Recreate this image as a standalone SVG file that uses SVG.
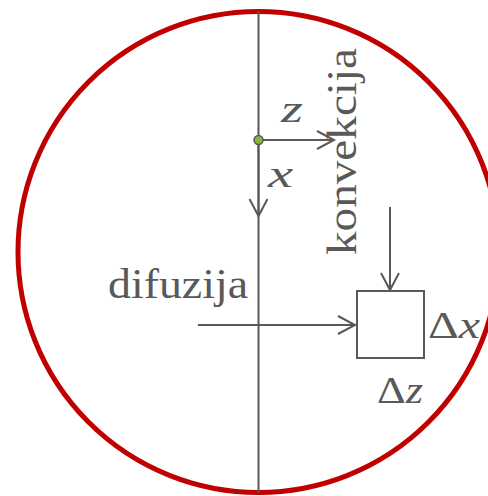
<svg xmlns="http://www.w3.org/2000/svg" width="488" height="496" viewBox="0 0 488 496">
<style>
.ln{stroke:#595959;stroke-width:2;fill:none}
.ar{marker-end:url(#open)}
.t{font-family:"Liberation Serif","Times New Roman",serif;fill:#595959}
.it{font-style:italic}
</style>
<defs>
<marker id="open" markerUnits="userSpaceOnUse" viewBox="-20 -12 24 24" markerWidth="24" markerHeight="24" refX="0" refY="0" orient="auto" overflow="visible">
<path d="M-17,-9 L0,0 L-17,9" fill="none" stroke="#595959" stroke-width="2"/>
</marker>
</defs>
<rect width="488" height="496" fill="#fff"/>
<g id="boundary">
<circle cx="258.5" cy="252" r="240.5" fill="none" stroke="#c00000" stroke-width="5"/>
</g>
<g id="connectors">
<line class="ln" x1="258.5" y1="11" x2="258.5" y2="493"/>
<line class="ln ar" x1="258.5" y1="140" x2="334" y2="140"/>
<line class="ln ar" x1="258.5" y1="140" x2="258.5" y2="216"/>
<line class="ln ar" x1="198" y1="325" x2="355" y2="325"/>
<line class="ln ar" x1="390" y1="207" x2="390" y2="290"/>
</g>
<g id="origin">
<circle cx="258.5" cy="140" r="4.5" fill="#8db33a" stroke="#595959" stroke-width="1.5"/>
</g>
<g id="label-z"><text class="t it" x="281" y="122" font-size="38" textLength="22" lengthAdjust="spacingAndGlyphs">z</text></g>
<g id="label-x"><text class="t it" x="268" y="187" font-size="38" textLength="25" lengthAdjust="spacingAndGlyphs">x</text></g>
<g id="label-konvekcija"><text class="t" transform="translate(356,255) rotate(-90)" x="0" y="0" font-size="42" textLength="207" lengthAdjust="spacingAndGlyphs">konvekcija</text></g>
<g id="label-difuzija"><text class="t" x="108" y="298" font-size="42" textLength="140" lengthAdjust="spacingAndGlyphs">difuzija</text></g>
<g id="element">
<rect class="ln" x="357" y="291" width="67" height="67"/>
</g>
<g id="label-dx"><text class="t" x="428" y="338" font-size="38" textLength="52" lengthAdjust="spacingAndGlyphs">Δ<tspan class="it">x</tspan></text></g>
<g id="label-dz"><text class="t" x="377" y="403" font-size="38" textLength="46" lengthAdjust="spacingAndGlyphs">Δ<tspan class="it">z</tspan></text></g>
</svg>
